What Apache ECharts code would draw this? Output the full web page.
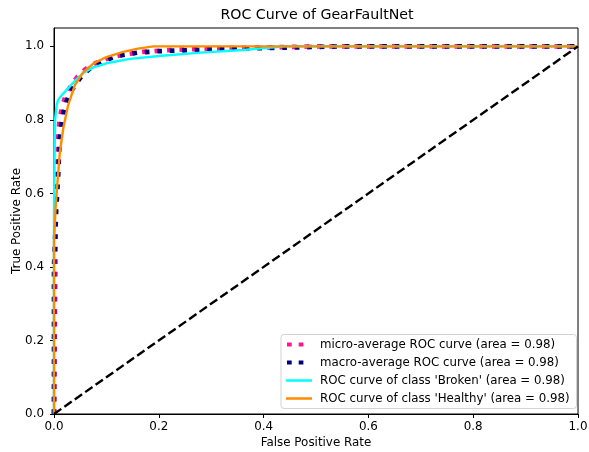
<!DOCTYPE html>
<html>
<head>
<meta charset="utf-8">
<script src="https://cdn.jsdelivr.net/npm/echarts@6/dist/echarts.min.js"></script>
<style>
html,body{margin:0;padding:0;background:#fff;}
#chart{width:589px;height:452px;}
</style>
</head>
<body>
<div id="chart"></div>
<script>
var titleText = "ROC Curve of GearFaultNet";
var xName = "False Positive Rate";
var yName = "True Positive Rate";
var tickValues = [0, 0.2, 0.4, 0.6, 0.8, 1.0];

var microName = "micro-average ROC curve (area = 0.98)";
var microFpr = [0, 0.003, 0.003, 0.006, 0.01, 0.015, 0.022, 0.032, 0.045, 0.06, 0.08, 0.1, 0.13, 0.17, 0.22, 0.3, 0.4, 0.5, 1.0];
var microTpr = [0, 0.45, 0.62, 0.72, 0.79, 0.835, 0.865, 0.893, 0.918, 0.938, 0.955, 0.966, 0.977, 0.985, 0.99, 0.994, 0.997, 1.0, 1.0];

var macroName = "macro-average ROC curve (area = 0.98)";
var macroFpr = [0, 0, 0.004, 0.008, 0.011, 0.015, 0.021, 0.03, 0.04, 0.056, 0.075, 0.09, 0.12, 0.16, 0.2, 0.26, 0.35, 0.45, 0.55, 1.0];
var macroTpr = [0, 0.4, 0.55, 0.65, 0.75, 0.8, 0.84, 0.872, 0.895, 0.925, 0.947, 0.958, 0.974, 0.983, 0.987, 0.99, 0.994, 0.997, 1.0, 1.0];

var brokenName = "ROC curve of class 'Broken' (area = 0.98)";
var brokenFpr = [0, 0, 0.002, 0.005, 0.008, 0.014, 0.021, 0.03, 0.042, 0.056, 0.075, 0.1, 0.145, 0.2, 0.28, 0.36, 0.44, 1.0];
var brokenTpr = [0, 0.55, 0.8, 0.84, 0.855, 0.866, 0.877, 0.891, 0.909, 0.928, 0.943, 0.954, 0.966, 0.974, 0.983, 0.99, 1.0, 1.0];

var healthyName = "ROC curve of class 'Healthy' (area = 0.98)";
var healthyFpr = [0, 0, 0.003, 0.006, 0.011, 0.018, 0.027, 0.04, 0.056, 0.075, 0.1, 0.132, 0.16, 0.19, 1.0];
var healthyTpr = [0, 0.47, 0.56, 0.62, 0.71, 0.78, 0.84, 0.895, 0.93, 0.953, 0.971, 0.985, 0.994, 1.0, 1.0];

var diagX = [0, 1];
var diagY = [0, 1];

function pairs(xs, ys) {
  var out = [];
  for (var i = 0; i < xs.length; i++) out.push([xs[i], ys[i]]);
  return out;
}

var FONT = "DejaVu Sans";
var FS = 11.9;
var chart = echarts.init(document.getElementById('chart'), null, {renderer: 'canvas'});

function lineSeries(name, xs, ys, color, width, type) {
  return {
    name: name,
    type: 'line',
    data: pairs(xs, ys),
    symbol: 'none',
    showSymbol: false,
    smooth: false,
    clip: true,
    animation: false,
    lineStyle: {color: color, width: width, type: type, cap: 'butt', join: 'round'},
    itemStyle: {color: color}
  };
}

// legend glyphs (29 x 10 box; tiny corner marks fix the bounding box)
var corners = 'M0,0h0.01v0.01h-0.01z M28.99,9.99h0.01v0.01h-0.01z ';
var solidIcon = 'path://' + corners + 'M0,3.8h26v2.4h-26z';
var dotIcon = 'path://' + corners + 'M1,3h4.7v4h-4.7z M12.7,3h4.7v4h-4.7z';

var option = {
  animation: false,
  backgroundColor: '#ffffff',
  title: {
    text: titleText,
    left: 317, top: 8, textAlign: 'center', padding: 0,
    textStyle: {fontFamily: FONT, fontSize: 14.2, fontWeight: 'normal', color: '#000'}
  },
  grid: {
    left: 54, right: 11, top: 28, bottom: 38,
    containLabel: false,
    outerBoundsMode: 'none',
    show: true, borderColor: '#000', borderWidth: 1, backgroundColor: 'transparent'
  },
  legend: {
    orient: 'vertical',
    left: 281, top: 334.5,
    itemWidth: 29, itemHeight: 10, itemGap: 6,
    symbolKeepAspect: false,
    padding: [4, 7, 4, 5],
    borderColor: '#d3d3d3', borderWidth: 1, borderRadius: 3,
    backgroundColor: 'rgba(255,255,255,0.8)',
    textStyle: {fontFamily: FONT, fontSize: 11.8, color: '#000'},
    data: [
      {name: microName, icon: dotIcon},
      {name: macroName, icon: dotIcon},
      {name: brokenName, icon: solidIcon},
      {name: healthyName, icon: solidIcon}
    ]
  },
  xAxis: {
    type: 'value', min: 0, max: 1, interval: 0.2,
    name: xName, nameLocation: 'middle', nameGap: 23, nameMoveOverlap: false,
    nameTextStyle: {fontFamily: FONT, fontSize: FS, color: '#000'},
    axisLine: {show: true, lineStyle: {color: '#000', width: 1}},
    axisTick: {show: true, length: 4, inside: false, lineStyle: {color: '#000'}},
    axisLabel: {fontFamily: FONT, fontSize: FS, color: '#000', margin: 7,
      formatter: function (v) { return v.toFixed(1); }},
    splitLine: {show: false}
  },
  yAxis: {
    type: 'value', min: 0, max: 1.05, interval: 0.2,
    name: yName, nameLocation: 'middle', nameGap: 31, nameRotate: 90, nameMoveOverlap: false,
    nameTextStyle: {fontFamily: FONT, fontSize: FS, color: '#000'},
    axisLine: {show: true, lineStyle: {color: '#000', width: 1}},
    axisTick: {show: true, length: 4, inside: false, lineStyle: {color: '#000'}, customValues: tickValues},
    axisLabel: {fontFamily: FONT, fontSize: FS, color: '#000', margin: 10, customValues: tickValues,
      formatter: function (v) { return v.toFixed(1); }},
    splitLine: {show: false}
  },
  series: [
    lineSeries(microName, microFpr, microTpr, '#ff1493', 4.7, [4.7, 7.8]),
    lineSeries(macroName, macroFpr, macroTpr, '#000080', 4.7, [4.7, 7.8]),
    lineSeries(brokenName, brokenFpr, brokenTpr, '#00ffff', 2.4, 'solid'),
    lineSeries(healthyName, healthyFpr, healthyTpr, '#ff8c00', 2.4, 'solid'),
    lineSeries('diagonal', diagX, diagY, '#000000', 2.4, [8.9, 3.8])
  ]
};
chart.setOption(option);
</script>
</body>
</html>
